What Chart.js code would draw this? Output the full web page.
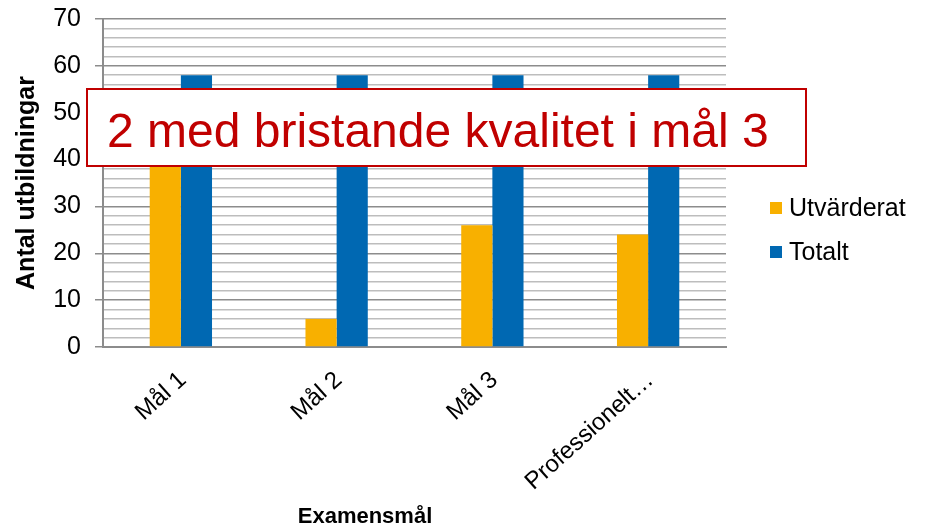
<!DOCTYPE html>
<html>
<head>
<meta charset="utf-8">
<script src="https://cdn.jsdelivr.net/npm/chart.js@4/dist/chart.umd.min.js"></script>
<style>
  html, body { margin: 0; padding: 0; background: #ffffff; }
  #wrap { width: 930px; height: 528px; position: relative; }
</style>
</head>
<body>
<div id="wrap"><canvas id="c" width="930" height="528"></canvas></div>
<script>
const categories = ['Mål 1', 'Mål 2', 'Mål 3', 'Professionelt…'];
const seriesNames = ['Utvärderat', 'Totalt'];
const utvarderat = [47, 6, 26, 24];
const totalt = [58, 58, 58, 58];
const yTickLabels = [0, 10, 20, 30, 40, 50, 60, 70];
const yTitle = 'Antal utbildningar';
const xTitle = 'Examensmål';
const calloutText = '2 med bristande kvalitet i mål 3';

const FONT = "'Liberation Sans', Arial, sans-serif";
const COLORS = ['#F8B000', '#0068B2'];

const overlayPlugin = {
  id: 'overlay',
  afterDraw(chart) {
    const ctx = chart.ctx;
    ctx.save();
    // x axis title
    ctx.fillStyle = '#000';
    ctx.font = 'bold 22px ' + FONT;
    ctx.textAlign = 'center';
    ctx.textBaseline = 'middle';
    ctx.fillText(xTitle, 365, 517);
    // legend
    ctx.font = '25px ' + FONT;
    ctx.textAlign = 'left';
    chart.data.datasets.forEach((ds, i) => {
      const cy = 208 + i * 44;
      ctx.fillStyle = ds.backgroundColor;
      ctx.fillRect(770, cy - 6, 12, 12);
      ctx.fillStyle = '#000';
      ctx.fillText(ds.label, 789, cy + 1);
    });
    // callout box
    ctx.fillStyle = '#ffffff';
    ctx.fillRect(87, 89, 719, 77);
    ctx.strokeStyle = '#C00000';
    ctx.lineWidth = 2;
    ctx.strokeRect(87, 89, 719, 77);
    ctx.fillStyle = '#C00000';
    ctx.font = '48px ' + FONT;
    ctx.textBaseline = 'alphabetic';
    ctx.fillText(calloutText, 107, 147);
    ctx.restore();
  }
};

new Chart(document.getElementById('c'), {
  type: 'bar',
  data: {
    labels: categories,
    datasets: [
      { label: seriesNames[0], data: utvarderat, backgroundColor: COLORS[0], borderWidth: 0 },
      { label: seriesNames[1], data: totalt, backgroundColor: COLORS[1], borderWidth: 0 }
    ]
  },
  options: {
    responsive: false,
    animation: false,
    devicePixelRatio: 1,
    layout: { padding: { left: 0, top: 19, right: 204, bottom: 0 } },
    datasets: { bar: { categoryPercentage: 0.4, barPercentage: 1.0 } },
    plugins: { legend: { display: false }, tooltip: { enabled: false } },
    scales: {
      x: {
        offset: true,
        grid: { display: true, drawOnChartArea: false, drawTicks: false },
        border: { display: true, color: '#8c8c8c', width: 2 },
        ticks: {
          autoSkip: false, minRotation: 42, maxRotation: 42, padding: 19, labelOffset: 2,
          color: '#000', font: { family: FONT, size: 24 }
        },
        afterFit(scale) { scale.height = 181; scale.paddingLeft = 0; scale.paddingRight = 0; }
      },
      y: {
        min: 0, max: 70,
        afterBuildTicks(scale) {
          const t = [];
          for (let v = 0; v <= 70; v += 2) t.push({ value: v });
          scale.ticks = t;
        },
        ticks: {
          autoSkip: false, padding: 14, color: '#000',
          font: { family: FONT, size: 25 },
          callback: (v) => (yTickLabels.includes(v) ? String(v) : '')
        },
        grid: {
          color: (c) => (c.tick && c.tick.value % 10 === 0 ? '#8c8c8c' : '#bdbdbd'),
          tickColor: (c) => (c.tick && c.tick.value % 10 === 0 ? '#8c8c8c' : 'rgba(0,0,0,0)'),
          lineWidth: 1.5,
          tickLength: 8
        },
        border: { display: true, color: '#8c8c8c', width: 2 },
        title: {
          display: true, text: yTitle, color: '#000',
          font: { family: FONT, size: 25, weight: 'bold' },
          padding: { top: 12, bottom: 0 }
        },
        afterFit(scale) { scale.width = 103; scale.paddingTop = 0; scale.paddingBottom = 0; }
      }
    }
  },
  plugins: [overlayPlugin]
});
</script>
</body>
</html>
